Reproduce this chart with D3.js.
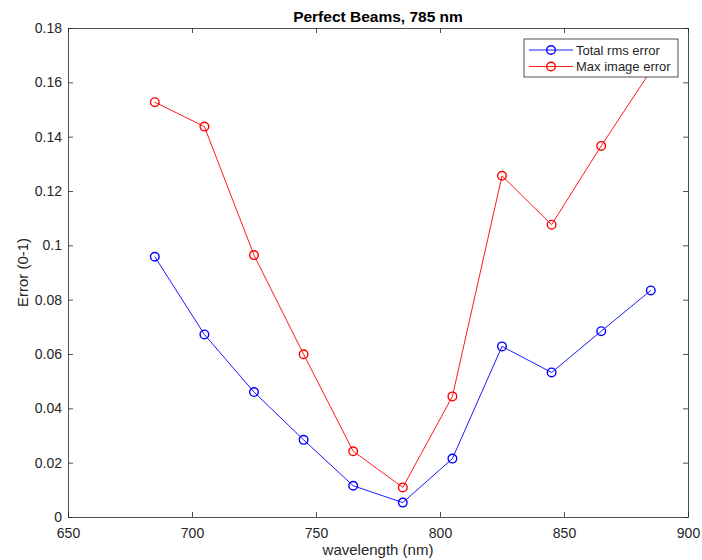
<!DOCTYPE html>
<html>
<head>
<meta charset="utf-8">
<script src="https://cdn.jsdelivr.net/npm/d3@7"></script>
<style>
  body { margin: 0; background: #fff; }
  text { font-family: "Liberation Sans", Arial, sans-serif; fill: #262626; }
  .axis path, .axis line { stroke: #262626; stroke-width: 0.8; }
  .axis text { font-size: 14px; }
</style>
</head>
<body>
<div id="chart"></div>
<script>
// wavelengths (nm)
const wavelengths = [685, 705, 725, 745, 765, 785, 805, 825, 845, 865, 885];
// series
const totalRms = [0.0958, 0.0672, 0.0460, 0.0284, 0.0115, 0.0053, 0.0215, 0.0628, 0.0532, 0.0684, 0.0834];
const maxImage = [0.1527, 0.1437, 0.0964, 0.0599, 0.0242, 0.0109, 0.0444, 0.1256, 0.1076, 0.1366, 0.1643];
const xTicks = [650, 700, 750, 800, 850, 900];
const yTicks = [0, 0.02, 0.04, 0.06, 0.08, 0.1, 0.12, 0.14, 0.16, 0.18];
const seriesNames = ['Total rms error', 'Max image error'];
const seriesColors = ['#0000ff', '#ff0000'];

const width = 702, height = 560;
const margin = {top: 28, right: 14, bottom: 43, left: 68};
const w = width - margin.left - margin.right;
const h = height - margin.top - margin.bottom;

const svg = d3.select('#chart').append('svg')
    .attr('width', width)
    .attr('height', height);

const chart = svg.append('g')
    .attr('transform', `translate(${margin.left},${margin.top})`);

const x = d3.scaleLinear().domain([650, 900]).range([0, w]);
const y = d3.scaleLinear().domain([0, 0.18]).range([h, 0]);

// axes, ticks pointing inward, mirrored on top/right
chart.append('g').attr('class', 'axis')
    .attr('transform', `translate(0,${h})`)
    .call(d3.axisBottom(x).tickValues(xTicks).tickSize(-5).tickSizeOuter(0).tickPadding(8))
    .call(g => g.selectAll('text').attr('dy', '0.95em'));

chart.append('g').attr('class', 'axis')
    .call(d3.axisLeft(y).tickValues(yTicks).tickFormat(d3.format('~g')).tickSize(-5).tickSizeOuter(0).tickPadding(6));

chart.append('g').attr('class', 'axis')
    .call(d3.axisTop(x).tickValues(xTicks).tickSize(-5).tickSizeOuter(0).tickFormat(''));

chart.append('g').attr('class', 'axis')
    .attr('transform', `translate(${w},0)`)
    .call(d3.axisRight(y).tickValues(yTicks).tickSize(-5).tickSizeOuter(0).tickFormat(''));

// lines and markers
const series = [totalRms, maxImage];
const line = d3.line().x((d, i) => x(wavelengths[i])).y(d => y(d));

series.forEach((vals, k) => {
  chart.append('path')
      .datum(vals)
      .attr('fill', 'none')
      .attr('stroke', seriesColors[k])
      .attr('stroke-width', 0.9)
      .attr('d', line);

  chart.selectAll(null)
      .data(vals)
      .join('circle')
      .attr('cx', (d, i) => x(wavelengths[i]))
      .attr('cy', d => y(d))
      .attr('r', 4.3)
      .attr('fill', 'none')
      .attr('stroke', seriesColors[k])
      .attr('stroke-width', 1.4);
});

// legend
const legend = chart.append('g')
    .attr('transform', `translate(${w - 164},${11})`);

legend.append('rect')
    .attr('width', 154)
    .attr('height', 38)
    .attr('fill', '#fff')
    .attr('stroke', '#262626')
    .attr('stroke-width', 0.8);

seriesNames.forEach((name, k) => {
  const row = legend.append('g').attr('transform', `translate(0,${11 + k * 16.5})`);
  row.append('line')
      .attr('x1', 5).attr('x2', 49)
      .attr('stroke', seriesColors[k]).attr('stroke-width', 0.9);
  row.append('circle')
      .attr('cx', 27).attr('r', 4.3)
      .attr('fill', 'none')
      .attr('stroke', seriesColors[k]).attr('stroke-width', 1.4);
  row.append('text')
      .attr('x', 52).attr('dy', '0.35em')
      .style('font-size', '13px')
      .text(name);
});

// titles
svg.append('text')
    .attr('x', margin.left + w / 2)
    .attr('y', 22)
    .attr('text-anchor', 'middle')
    .style('font-size', '15.5px')
    .style('font-weight', 'bold')
    .style('fill', '#000')
    .text('Perfect Beams, 785 nm');

svg.append('text')
    .attr('x', margin.left + w / 2)
    .attr('y', 555)
    .attr('text-anchor', 'middle')
    .style('font-size', '15px')
    .text('wavelength (nm)');

svg.append('text')
    .attr('transform', `translate(28,${margin.top + h / 2}) rotate(-90)`)
    .attr('text-anchor', 'middle')
    .style('font-size', '15px')
    .text('Error (0-1)');
</script>
</body>
</html>
